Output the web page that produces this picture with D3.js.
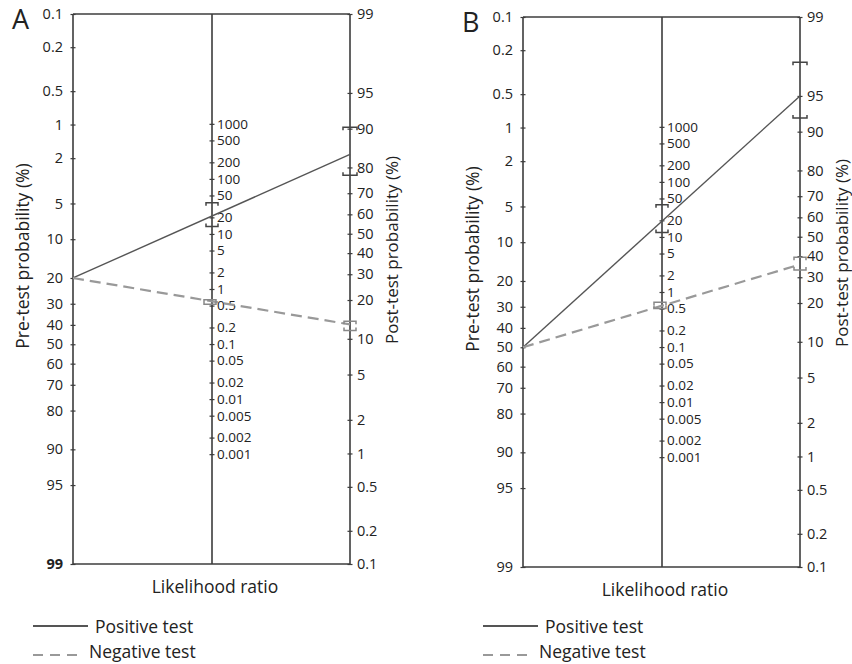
<!DOCTYPE html>
<html>
<head>
<meta charset="utf-8">
<script src="https://cdn.jsdelivr.net/npm/d3@7"></script>
<style>
  body { margin: 0; background: #fff; }
  svg { font-family: "Open Sans", sans-serif; }
</style>
</head>
<body>
<svg id="chart" width="852" height="664"></svg>
<script>
// values
var panels = ["A", "B"];
var preTicks = [0.1, 0.2, 0.5, 1, 2, 5, 10, 20, 30, 40, 50, 60, 70, 80, 90, 95, 99];
var postTicks = [99, 95, 90, 80, 70, 60, 50, 40, 30, 20, 10, 5, 2, 1, 0.5, 0.2, 0.1];
var lrTicks = [1000, 500, 200, 100, 50, 20, 10, 5, 2, 1, 0.5, 0.2, 0.1, 0.05, 0.02, 0.01, 0.005, 0.002, 0.001];

var preTest = [20, 50];          // pre-test probability (%)
var lrPos = [21, 19];
var lrPosLow = [13.6, 12];
var lrPosHigh = [37, 38.5];
var lrNeg = [0.6, 0.56];
var lrNegLow = [0.53, 0.5];
var lrNegHigh = [0.64, 0.65];

// layout
var panelX = [0, 450], panelY = [0, 3];
var xL = 73, xM = 212, xR = 350, yTop = 14, yBot = 564;
var axisCol = "#3c3c3c", textCol = "#222";

function logit(p) { return Math.log(p / (1 - p)); }
function postProb(pre, lr) { var o = pre / (100 - pre) * lr; return 100 * o / (1 + o); }
var span = logit(0.99) - logit(0.001);

var yPre = d3.scaleLinear().domain([logit(0.001), logit(0.99)]).range([yTop, yBot]);
var yPost = d3.scaleLinear().domain([logit(0.99), logit(0.001)]).range([yTop, yBot]);
var yLR = d3.scaleLinear().domain([span, -span]).range([yTop, yBot]);

var svg = d3.select("#chart");

function styleAxis(g, size, dx) {
  g.select(".domain").remove();
  g.selectAll(".tick line").attr("x1", -2.5).attr("x2", 2.5).attr("stroke", axisCol).attr("stroke-width", 1.2);
  g.selectAll(".tick text").attr("fill", textCol).attr("font-size", size).attr("x", dx);
  g.attr("font-family", null);
}

// bracket caps, hooks pointing towards the interval
function bracket(g, x, y1, y2, w, col) {
  var h = 3;
  var p = "M" + (x - w) + "," + (y1 + h) + "L" + (x - w) + "," + y1 + "L" + (x + w) + "," + y1 + "L" + (x + w) + "," + (y1 + h) +
          "M" + (x - w) + "," + (y2 - h) + "L" + (x - w) + "," + y2 + "L" + (x + w) + "," + y2 + "L" + (x + w) + "," + (y2 - h);
  g.append("path").attr("d", p).attr("fill", "none").attr("stroke", col).attr("stroke-width", 1.5);
}

panels.forEach(function(name, i) {
  var g = svg.append("g").attr("transform", "translate(" + panelX[i] + "," + panelY[i] + ")");

  // frame lines
  [[xL, yTop, xL, yBot], [xM, yTop, xM, yBot], [xR, yTop, xR, yBot], [xL, yTop, xR, yTop], [xL, yBot, xR, yBot]]
    .forEach(function(l) {
      g.append("line").attr("x1", l[0]).attr("y1", l[1]).attr("x2", l[2]).attr("y2", l[3])
        .attr("stroke", axisCol).attr("stroke-width", 1.6);
    });

  var aPre = g.append("g").attr("transform", "translate(" + xL + ",0)")
    .call(d3.axisLeft(yPre).tickValues(preTicks.map(function(d) { return logit(d / 100); }))
      .tickFormat(function(d, j) { return preTicks[j]; }).tickSize(3));
  styleAxis(aPre, 14.5, -10);
  aPre.selectAll(".tick text").attr("text-anchor", "end");
  if (i === 0) aPre.selectAll(".tick text").filter(function(d, j) { return preTicks[j] === 99; }).attr("font-weight", "bold");

  var aPost = g.append("g").attr("transform", "translate(" + xR + ",0)")
    .call(d3.axisRight(yPost).tickValues(postTicks.map(function(d) { return logit(d / 100); }))
      .tickFormat(function(d, j) { return postTicks[j]; }).tickSize(3));
  styleAxis(aPost, 14.5, 7);

  var aLR = g.append("g").attr("transform", "translate(" + xM + ",0)")
    .call(d3.axisRight(yLR).tickValues(lrTicks.map(Math.log))
      .tickFormat(function(d, j) { return lrTicks[j]; }).tickSize(3));
  styleAxis(aLR, 13.5, 5);

  // test lines
  var y0 = yPre(logit(preTest[i] / 100));
  var pPos = postProb(preTest[i], lrPos[i]);
  var pNeg = postProb(preTest[i], lrNeg[i]);
  g.append("line").attr("x1", xL).attr("y1", y0).attr("x2", xR).attr("y2", yPost(logit(pPos / 100)))
    .attr("stroke", "#555").attr("stroke-width", 1.4);
  g.append("line").attr("x1", xL).attr("y1", y0).attr("x2", xR).attr("y2", yPost(logit(pNeg / 100)))
    .attr("stroke", "#999").attr("stroke-width", 2.2).attr("stroke-dasharray", "11,6");

  // confidence brackets
  bracket(g, xM, yLR(Math.log(lrPosHigh[i])), yLR(Math.log(lrPosLow[i])), 6, "#444");
  bracket(g, xR, yPost(logit(postProb(preTest[i], lrPosHigh[i]) / 100)), yPost(logit(postProb(preTest[i], lrPosLow[i]) / 100)), 7, "#444");
  bracket(g, xM - 2, yLR(Math.log(lrNegHigh[i])), yLR(Math.log(lrNegLow[i])), 6, "#888");
  bracket(g, xR, yPost(logit(postProb(preTest[i], lrNegHigh[i]) / 100)), yPost(logit(postProb(preTest[i], lrNegLow[i]) / 100)), 6, "#888");

  // titles
  g.append("text").attr("x", 12).attr("y", 29).attr("font-size", 27).attr("fill", textCol).text(name);
  g.append("text").attr("transform", "translate(22,256)rotate(-90)").attr("text-anchor", "middle")
    .attr("dominant-baseline", "central").attr("font-size", 17.5).attr("fill", textCol).text("Pre-test probability (%)");
  g.append("text").attr("transform", "translate(391,250)rotate(-90)").attr("text-anchor", "middle")
    .attr("dominant-baseline", "central").attr("font-size", 17).attr("fill", textCol).text("Post-test probability (%)");
  g.append("text").attr("x", xM + 3).attr("y", 593).attr("text-anchor", "middle").attr("font-size", 17.5)
    .attr("fill", textCol).text("Likelihood ratio");

  // legend
  var lg = svg.append("g").attr("transform", "translate(" + panelX[i] + ",0)");
  lg.append("line").attr("x1", 33).attr("x2", 88).attr("y1", 626).attr("y2", 626).attr("stroke", "#555").attr("stroke-width", 2);
  lg.append("text").attr("x", 95).attr("y", 633).attr("font-size", 17.5).attr("fill", textCol).text("Positive test");
  lg.append("line").attr("x1", 33).attr("x2", 80).attr("y1", 655).attr("y2", 655).attr("stroke", "#999").attr("stroke-width", 2)
    .attr("stroke-dasharray", "10,7");
  lg.append("text").attr("x", 89).attr("y", 658).attr("font-size", 17.5).attr("fill", textCol).text("Negative test");
});
</script>
</body>
</html>
